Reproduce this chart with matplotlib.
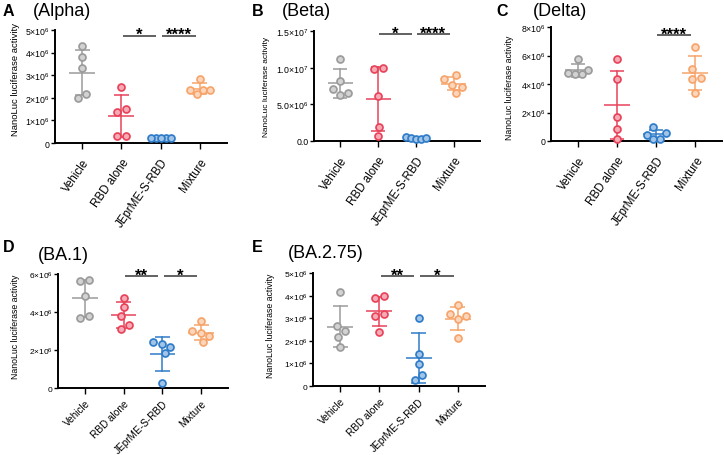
import numpy as np
import matplotlib
matplotlib.use("Agg")
import matplotlib.pyplot as plt

plt.rcParams['font.family'] = ['Liberation Sans', 'DejaVu Sans']
plt.rcParams['mathtext.fontset'] = 'custom'
plt.rcParams['mathtext.rm'] = 'Liberation Sans'
plt.rcParams['mathtext.it'] = 'Liberation Sans:italic'
plt.rcParams['mathtext.bf'] = 'Liberation Sans:bold'

# ---------------- data (values in units of 10^6) ----------------
categories = ["Vehicle", "RBD alone", "JEprME-S-RBD", "Mixture"]
colors = ["#9b9b9b", "#e8435a", "#2f7cc9", "#f7a46a"]

alpha_values = [[4.27, 3.80, 3.30, 2.16, 2.00],
                [2.50, 1.51, 1.36, 0.29, 0.29],
                [0.22, 0.22, 0.21, 0.22, 0.22],
                [2.85, 2.33, 2.18, 2.33, 2.33]]
beta_values = [[11.2, 8.2, 7.1, 6.5, 6.25],
               [9.95, 9.8, 6.2, 1.86, 0.64],
               [0.6, 0.4, 0.3, 0.3, 0.4],
               [8.95, 8.4, 7.7, 7.4, 6.6]]
delta_values = [[5.74, 4.99, 4.75, 4.68, 4.68],
                [5.74, 4.33, 1.69, 0.87, 0.12],
                [0.99, 0.56, 0.42, 0.17, 0.15],
                [6.59, 5.04, 4.45, 4.33, 3.34]]
ba1_values = [[5.65, 5.70, 4.82, 3.67, 3.81],
              [4.75, 4.25, 3.77, 3.32, 3.10],
              [2.32, 2.18, 2.40, 1.82, 0.25],
              [3.51, 3.02, 2.88, 2.75, 2.40]]
ba275_values = [[4.14, 2.64, 2.45, 2.19, 1.72],
                [3.90, 3.97, 3.17, 3.10, 2.38],
                [3.01, 1.43, 0.97, 0.47, 0.25],
                [3.57, 3.10, 3.17, 2.96, 2.13]]

alpha_ticks = [0, 1, 2, 3, 4, 5]
alpha_ticklabels = ["0", r"$1{\times}10^{6}$", r"$2{\times}10^{6}$", r"$3{\times}10^{6}$",
                    r"$4{\times}10^{6}$", r"$5{\times}10^{6}$"]
beta_ticks = [0, 5, 10, 15]
beta_ticklabels = ["0.0", r"$5.0{\times}10^{6}$", r"$1.0{\times}10^{7}$", r"$1.5{\times}10^{7}$"]
delta_ticks = [0, 2, 4, 6, 8]
delta_ticklabels = ["0", r"$2{\times}10^{6}$", r"$4{\times}10^{6}$", r"$6{\times}10^{6}$", r"$8{\times}10^{6}$"]
ba1_ticks = [0, 2, 4, 6]
ba1_ticklabels = ["0", r"$2{\times}10^{6}$", r"$4{\times}10^{6}$", r"$6{\times}10^{6}$"]
ba275_ticks = [0, 1, 2, 3, 4, 5]
ba275_ticklabels = alpha_ticklabels

# significance: (group i, group j, height in 10^6, stars)
alpha_sig = [(2, 3, 4.75, "*"), (3, 4, 4.75, "****")]
beta_sig = [(2, 3, 14.6, "*"), (3, 4, 14.6, "****")]
delta_sig = [(3, 4, 7.45, "****")]
ba1_sig = [(2, 3, 5.9, "**"), (3, 4, 5.9, "*")]
ba275_sig = [(2, 3, 4.85, "**"), (3, 4, 4.85, "*")]

ylabel = "NanoLuc luciferase activity"

# ---------------- layout ----------------
W, H = 724, 456
fig = plt.figure(figsize=(W / 100, H / 100), dpi=100)

top = dict(rot=55, xfs=8.3, xpad=5.5, yfs=6.3)
bot = dict(rot=45, xfs=7.2, xpad=3.0, yfs=6.0)

panels = [
    dict(letter="A", title="(Alpha)", vals=alpha_values, rect=(55, 31, 227, 144), ymax=5,
         ticks=alpha_ticks, tl=alpha_ticklabels, sig=alpha_sig, st=top,
         lpos=(3, 12), tpos=(33, 12), ylab=(20, 80), ylfs=6.8),
    dict(letter="B", title="(Beta)", vals=beta_values, rect=(314, 32, 480, 142), ymax=15,
         ticks=beta_ticks, tl=beta_ticklabels, sig=beta_sig, st=top,
         lpos=(252, 12), tpos=(282, 12), ylab=(270, 87), ylfs=6.0),
    dict(letter="C", title="(Delta)", vals=delta_values, rect=(551, 28, 722, 142), ymax=8,
         ticks=delta_ticks, tl=delta_ticklabels, sig=delta_sig, st=top,
         lpos=(496, 12), tpos=(533, 12), ylab=(514, 88), ylfs=6.3),
    dict(letter="D", title="(BA.1)", vals=ba1_values, rect=(58, 275, 228, 389), ymax=6,
         ticks=ba1_ticks, tl=ba1_ticklabels, sig=ba1_sig, st=bot,
         lpos=(3, 248), tpos=(38, 255), ylab=(20, 327), ylfs=6.3),
    dict(letter="E", title="(BA.2.75)", vals=ba275_values, rect=(313, 274, 485, 387), ymax=5,
         ticks=ba275_ticks, tl=ba275_ticklabels, sig=ba275_sig, st=bot,
         lpos=(252, 248), tpos=(288, 254), ylab=(275, 326), ylfs=6.3),
]

XLIM = (0.31, 4.69)


def lighten(c, f=0.55):
    rgb = np.array(matplotlib.colors.to_rgb(c))
    return tuple(rgb + (1 - rgb) * f)


def swarm_offsets(vals, ypp, D=9.0, maxhalf=10.0):
    ypx = np.asarray(vals, float) * ypp
    n = len(ypx)
    order = np.argsort(ypx, kind="stable")
    offs = np.zeros(n)
    placed = []
    for i in order:
        ints = []
        for j in placed:
            dy = abs(ypx[i] - ypx[j])
            if dy < D:
                w = np.sqrt(D * D - dy * dy)
                ints.append((offs[j] - w, offs[j] + w))
        cands = [0.0] + [a for a, b in ints] + [b for a, b in ints]
        ok = [c for c in cands if all(not (a + 1e-6 < c < b - 1e-6) for a, b in ints)]
        ok.sort(key=lambda c: (round(abs(c), 6), -c))
        offs[i] = ok[0]
        placed.append(i)
    parent = list(range(n))

    def find(a):
        while parent[a] != a:
            a = parent[a]
        return a
    for a in range(n):
        for b in range(a + 1, n):
            if abs(ypx[a] - ypx[b]) < D:
                parent[find(a)] = find(b)
    groups = {}
    for a in range(n):
        groups.setdefault(find(a), []).append(a)
    for g in groups.values():
        if len(g) > 1:
            g = np.array(g)
            offs[g] -= offs[g].mean()
            m = np.abs(offs[g]).max()
            if m > maxhalf:
                offs[g] *= maxhalf / m
    return offs


for p in panels:
    L, T, R, B = p["rect"]
    st = p["st"]
    ax = fig.add_axes([L / W, 1 - B / H, (R - L) / W, (B - T) / H])
    ax.set_xlim(*XLIM)
    ax.set_ylim(0, p["ymax"])
    ypp = (B - T) / p["ymax"]
    xpp = (R - L) / (XLIM[1] - XLIM[0])
    for k, (vals, col) in enumerate(zip(p["vals"], colors)):
        x = k + 1
        v = np.array(vals)
        m = v.mean()
        s = v.std(ddof=1)
        lw = 1.1
        ax.plot([x - 0.33, x + 0.33], [m, m], color=col, lw=lw, zorder=2, solid_capstyle="butt")
        ax.plot([x, x], [m - s, m + s], color=col, lw=lw, zorder=2)
        for yy in (m - s, m + s):
            ax.plot([x - 0.19, x + 0.19], [yy, yy], color=col, lw=lw, zorder=2, solid_capstyle="butt")
        offs = swarm_offsets(v, ypp) / xpp
        ax.scatter(x + offs, v, s=25, facecolor=lighten(col), edgecolor=col, linewidth=1.25,
                   zorder=3, clip_on=False)
    for (i, j, yv, stars) in p["sig"]:
        xc = (i + j) / 2 - 0.04
        ax.plot([xc - 0.43, xc + 0.43], [yv, yv], color="#555555", lw=1.3, clip_on=False,
                solid_capstyle="butt")
        ax.annotate(stars, xy=(xc, yv), xytext=(0, -2.5), textcoords="offset points",
                    ha="center", va="baseline", fontsize=12, fontweight="bold", color="black",
                    annotation_clip=False)
    ax.set_xticks(range(1, 5))
    ax.set_xticklabels(categories, rotation=st["rot"], ha="right", rotation_mode="anchor",
                       fontsize=st["xfs"])
    ax.set_yticks(p["ticks"])
    ax.set_yticklabels(p["tl"], fontsize=st["yfs"])
    ax.tick_params(axis="y", length=3, width=1.0, pad=1)
    ax.tick_params(axis="x", length=4, width=1.0, pad=st["xpad"])
    for sp in ("top", "right"):
        ax.spines[sp].set_visible(False)
    for sp in ("left", "bottom"):
        ax.spines[sp].set_linewidth(1.4)
    ax.set_ylabel(ylabel, fontsize=p["ylfs"])
    ax.yaxis.set_label_coords((p["ylab"][0] - L) / (R - L), (B - p["ylab"][1]) / (B - T))
    fig.text(p["lpos"][0] / W, 1 - p["lpos"][1] / H, p["letter"], fontsize=11.5,
             fontweight="bold", ha="left", va="center")
    fig.text(p["tpos"][0] / W, 1 - p["tpos"][1] / H, p["title"], fontsize=13,
             ha="left", va="center")

fig.savefig("out.png", dpi=100)
